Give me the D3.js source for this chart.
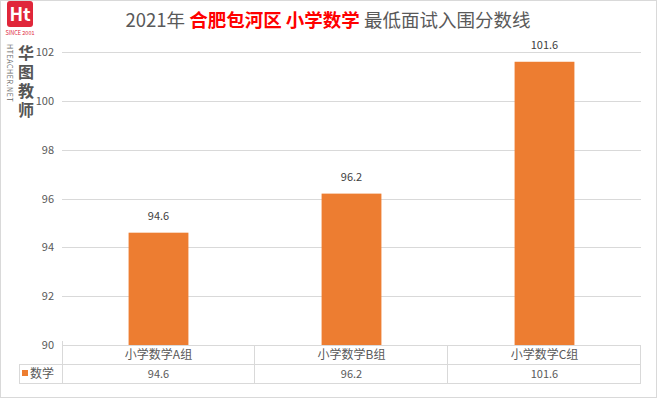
<!DOCTYPE html>
<html>
<head>
<meta charset="utf-8">
<script src="https://cdn.jsdelivr.net/npm/d3@7"></script>
<style>
  body { margin: 0; background: #fff; }
  svg text { font-family: "Noto Sans CJK SC", "DejaVu Sans", sans-serif; }
</style>
</head>
<body>
<svg id="chart" width="657" height="399"></svg>
<script>
  const categories = ["小学数学A组", "小学数学B组", "小学数学C组"];
  const seriesName = "数学";
  const values = [94.6, 96.2, 101.6];
  const yTicks = [90, 92, 94, 96, 98, 100, 102];
  const titleParts = [
    { text: "2021年 ", color: "#595959", weight: "normal" },
    { text: "合肥包河区 ", color: "#ff0000", weight: "bold" },
    { text: "小学数学 ", color: "#ff0000", weight: "bold" },
    { text: "最低面试入围分数线", color: "#595959", weight: "normal" }
  ];

  const svg = d3.select("#chart");
  const W = 657, H = 399;
  const plotL = 62, plotR = 641, plotT = 52, plotB = 345;
  const rowH = 19;
  const barColor = "#ed7d31";
  const gridColor = "#d9d9d9";
  const textColor = "#595959";

  // outer border
  svg.append("rect").attr("x", 0.5).attr("y", 0.5).attr("width", W - 1).attr("height", H - 2)
    .attr("fill", "#fff").attr("stroke", gridColor);

  // title
  const title = svg.append("text").attr("x", 328).attr("y", 27)
    .attr("text-anchor", "middle").attr("font-size", 18.5);
  title.selectAll("tspan").data(titleParts).enter().append("tspan")
    .attr("fill", d => d.color).attr("font-weight", d => d.weight).text(d => d.text);

  const x = d3.scaleBand().domain(categories).range([plotL, plotR]).paddingInner(0.69).paddingOuter(0.345);
  const xCol = d3.scaleBand().domain(categories).range([plotL, plotR]);
  const y = d3.scaleLinear().domain([90, 102]).range([plotB, plotT]);

  // gridlines
  svg.append("g").selectAll("line").data(yTicks.slice(1)).enter().append("line")
    .attr("x1", plotL).attr("x2", plotR)
    .attr("y1", d => Math.round(y(d)) + 0.5).attr("y2", d => Math.round(y(d)) + 0.5)
    .attr("stroke", gridColor);

  // y labels
  svg.append("g").selectAll("text").data(yTicks).enter().append("text")
    .attr("x", 54).attr("y", d => y(d) + 4).attr("text-anchor", "end")
    .attr("font-size", 11).attr("fill", textColor).text(d => d);

  // bars
  svg.append("g").selectAll("rect").data(values).enter().append("rect")
    .attr("x", (d, i) => x(categories[i])).attr("width", x.bandwidth())
    .attr("y", d => y(d)).attr("height", d => plotB - y(d))
    .attr("fill", barColor);

  // data labels
  svg.append("g").selectAll("text").data(values).enter().append("text")
    .attr("x", (d, i) => x(categories[i]) + x.bandwidth() / 2)
    .attr("y", d => y(d) - 13).attr("text-anchor", "middle")
    .attr("font-size", 11).attr("fill", "#404040").text(d => d);

  // data table
  const tbl = svg.append("g").attr("stroke", gridColor).attr("fill", "none");
  tbl.append("line").attr("x1", plotL + 0.5).attr("x2", plotL + 0.5).attr("y1", plotB - 4).attr("y2", plotB + 2 * rowH);
  tbl.append("line").attr("x1", plotL).attr("x2", plotR).attr("y1", plotB + 0.5).attr("y2", plotB + 0.5);
  tbl.append("line").attr("x1", 19).attr("x2", plotR).attr("y1", plotB + rowH + 0.5).attr("y2", plotB + rowH + 0.5);
  tbl.append("line").attr("x1", 19).attr("x2", plotR).attr("y1", plotB + 2 * rowH + 0.5).attr("y2", plotB + 2 * rowH + 0.5);
  tbl.append("line").attr("x1", 19.5).attr("x2", 19.5).attr("y1", plotB + rowH).attr("y2", plotB + 2 * rowH);
  tbl.selectAll(".v").data(categories).enter().append("line")
    .attr("x1", d => xCol(d) + xCol.bandwidth() - 0.5).attr("x2", d => xCol(d) + xCol.bandwidth() - 0.5)
    .attr("y1", plotB).attr("y2", plotB + 2 * rowH);

  svg.append("g").selectAll("text").data(categories).enter().append("text")
    .attr("x", d => xCol(d) + xCol.bandwidth() / 2).attr("y", plotB + 14)
    .attr("text-anchor", "middle").attr("font-size", 12).attr("fill", textColor).text(d => d);
  svg.append("g").selectAll("text").data(values).enter().append("text")
    .attr("x", (d, i) => xCol(categories[i]) + xCol.bandwidth() / 2).attr("y", plotB + rowH + 14)
    .attr("text-anchor", "middle").attr("font-size", 11).attr("fill", textColor).text(d => d);
  svg.append("rect").attr("x", 22).attr("y", plotB + rowH + 6).attr("width", 6).attr("height", 6).attr("fill", barColor);
  svg.append("text").attr("x", 30).attr("y", plotB + rowH + 14).attr("font-size", 12)
    .attr("fill", textColor).text(seriesName);

  // logo
  const logo = svg.append("g");
  logo.append("rect").attr("x", 7).attr("y", 1).attr("width", 26).attr("height", 26).attr("rx", 3).attr("fill", "#e0263a");
  logo.append("text").attr("x", 20).attr("y", 21).attr("text-anchor", "middle").attr("font-size", 18)
    .attr("font-weight", "bold").attr("fill", "#fff").attr("font-family", "DejaVu Serif").text("Ht");
  logo.append("text").attr("x", 20).attr("y", 35).attr("text-anchor", "middle").attr("font-size", 5.5)
    .attr("fill", "#e0263a").text("SINCE 2001");
  logo.append("text").attr("transform", "translate(7,44) rotate(90)").attr("font-size", 7)
    .attr("fill", "#666").attr("letter-spacing", 0.6).text("HTEACHER.NET");
  logo.append("text").attr("x", 26).attr("y", 45)
    .style("writing-mode", "vertical-rl").attr("text-anchor", "start")
    .attr("font-size", 16).attr("letter-spacing", 3)
    .attr("font-weight", "bold").attr("fill", "#555").text("华图教师");
</script>
</body>
</html>
